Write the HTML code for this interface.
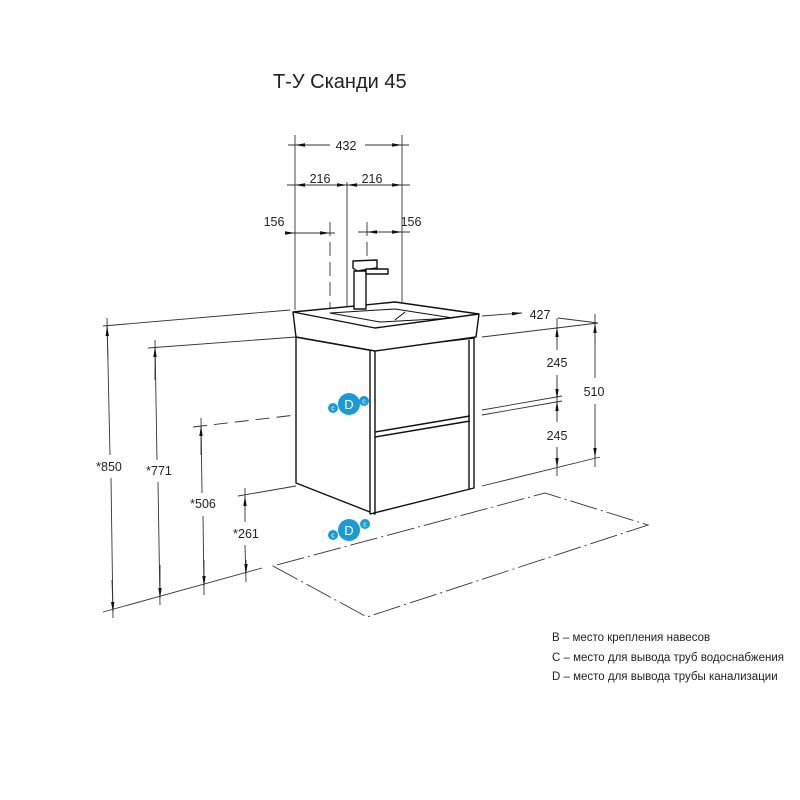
<!DOCTYPE html>
<html><head><meta charset="utf-8"><style>
html,body{margin:0;padding:0;background:#fff}
svg{display:block}
text{font-family:"Liberation Sans",sans-serif;fill:#222}
</style></head><body>
<svg width="800" height="800" viewBox="0 0 800 800" xmlns="http://www.w3.org/2000/svg">
<defs>
<marker id="a" markerWidth="10" markerHeight="6" refX="10" refY="3" orient="auto-start-reverse" markerUnits="userSpaceOnUse"><path d="M0,1.3 L10,3 L0,4.7z" fill="#111"/></marker>
</defs>
<text x="273" y="88" font-size="20">Т-У Сканди 45</text>
<g stroke="#333" stroke-width="0.9" fill="none">
<!-- top dims -->
<line x1="295" y1="135" x2="295" y2="310"/>
<line x1="402" y1="135" x2="402" y2="302"/>
<line x1="288" y1="145" x2="330" y2="145"/><line x1="365" y1="145" x2="409" y2="145"/>
<line x1="330" y1="145" x2="295" y2="145" marker-end="url(#a)"/>
<line x1="365" y1="145" x2="402" y2="145" marker-end="url(#a)"/>
<line x1="287" y1="185" x2="410" y2="185"/>
<line x1="320" y1="185" x2="295" y2="185" marker-end="url(#a)"/>
<line x1="320" y1="185" x2="347" y2="185" marker-end="url(#a)"/>
<line x1="375" y1="185" x2="347" y2="185" marker-end="url(#a)"/>
<line x1="375" y1="185" x2="402" y2="185" marker-end="url(#a)"/>
<line x1="347" y1="182" x2="347" y2="395"/>
<line x1="287" y1="233" x2="335" y2="233"/>
<line x1="312" y1="233" x2="330" y2="233" marker-end="url(#a)"/>
<line x1="287" y1="233" x2="295" y2="233" marker-end="url(#a)"/>
<line x1="358" y1="232" x2="410" y2="232"/>
<line x1="380" y1="232" x2="367" y2="232" marker-end="url(#a)"/>
<line x1="380" y1="232" x2="402" y2="232" marker-end="url(#a)"/>
<line x1="330" y1="222" x2="330" y2="400" stroke-dasharray="14,6"/>
<line x1="367" y1="222" x2="367" y2="258" stroke-dasharray="14,6"/>
<!-- left dims -->
<line x1="103" y1="326" x2="290" y2="310"/>
<line x1="148" y1="348" x2="296" y2="337"/>
<line x1="193" y1="427" x2="330" y2="411" stroke-dasharray="14,7"/>
<line x1="238" y1="496" x2="296" y2="486"/>
<line x1="103" y1="612" x2="262" y2="568"/>
<line x1="107" y1="318" x2="110" y2="455"/><line x1="111" y1="478" x2="113" y2="618"/>
<line x1="108" y1="360" x2="107" y2="326" marker-end="url(#a)"/>
<line x1="112" y1="580" x2="113" y2="612" marker-end="url(#a)"/>
<line x1="155" y1="340" x2="157" y2="460"/><line x1="158" y1="482" x2="160" y2="605"/>
<line x1="155" y1="380" x2="155" y2="347" marker-end="url(#a)"/>
<line x1="160" y1="565" x2="160" y2="598" marker-end="url(#a)"/>
<line x1="201" y1="418" x2="202" y2="493"/><line x1="203" y1="516" x2="204" y2="595"/>
<line x1="201" y1="455" x2="201" y2="426" marker-end="url(#a)"/>
<line x1="204" y1="560" x2="204" y2="586" marker-end="url(#a)"/>
<line x1="245" y1="488" x2="245" y2="522"/><line x1="245" y1="545" x2="246" y2="582"/>
<line x1="245" y1="510" x2="245" y2="496" marker-end="url(#a)"/>
<line x1="246" y1="560" x2="246" y2="574" marker-end="url(#a)"/>
<!-- right dims -->
<line x1="482" y1="316" x2="522" y2="313" marker-end="url(#a)"/>
<line x1="482" y1="337" x2="598" y2="323"/>
<line x1="558" y1="318" x2="598" y2="323"/>
<line x1="482" y1="410" x2="562" y2="396"/>
<line x1="482" y1="415" x2="562" y2="401"/>
<line x1="482" y1="486" x2="600" y2="457"/>
<line x1="557" y1="318" x2="557" y2="350"/><line x1="557" y1="375" x2="557" y2="422"/><line x1="557" y1="447" x2="557" y2="476"/>
<line x1="557" y1="345" x2="557" y2="327" marker-end="url(#a)"/>
<line x1="557" y1="380" x2="557" y2="399" marker-end="url(#a)"/>
<line x1="557" y1="420" x2="557" y2="401" marker-end="url(#a)"/>
<line x1="557" y1="450" x2="557" y2="468" marker-end="url(#a)"/>
<line x1="595" y1="314" x2="595" y2="378"/><line x1="595" y1="404" x2="595" y2="467"/>
<line x1="595" y1="345" x2="595" y2="323" marker-end="url(#a)"/>
<line x1="595" y1="440" x2="595" y2="458" marker-end="url(#a)"/>
<!-- floor -->
<polygon points="273,566 367,617 648,525 545,493" stroke-dasharray="28,4,2,4"/>
</g>
<!-- cabinet -->
<g stroke="#111" stroke-width="1.4" fill="#fff" stroke-linejoin="round">
<polygon points="296,337 375,351 375,514 296,483"/>
<polygon points="370,350 474,338 474,488 370,514"/>
<line x1="375" y1="351" x2="375" y2="514"/>
<line x1="469" y1="340" x2="469" y2="489"/>
<line x1="375" y1="432" x2="470" y2="416"/>
<line x1="375" y1="437" x2="470" y2="421"/>
<polygon points="293,312 395,302 479,314 476,337 375,351 296,337"/>
<polyline points="293,312 375,328 479,314" fill="none"/>
<polygon points="330,313 395,309 453,318 380,322" fill="none" stroke-width="1"/>
<line x1="405" y1="312" x2="395" y2="320" stroke-width="1"/>
<rect x="354" y="271" width="12" height="38" fill="#fff"/>
<polygon points="353,261 377,260 377,268 357,271 353,268"/>
<rect x="366" y="269" width="22" height="5"/>
</g>
<!-- markers -->
<g fill="#1a9ad6">
<circle cx="349" cy="404" r="11"/><circle cx="333" cy="408" r="5"/><circle cx="364" cy="401" r="5"/>
<circle cx="349" cy="530" r="11"/><circle cx="333" cy="535" r="5"/><circle cx="365" cy="524" r="5"/>
</g>
<g font-size="13" text-anchor="middle" style="fill:#fff">
<text x="349" y="409" style="fill:#fff">D</text><text x="349" y="535" style="fill:#fff">D</text>
</g>
<g font-size="7" text-anchor="middle">
<text x="333" y="410.5" style="fill:#fff">c</text><text x="364" y="403.5" style="fill:#fff">c</text>
<text x="333" y="537.5" style="fill:#fff">c</text><text x="365" y="526.5" style="fill:#fff">c</text>
</g>
<g font-size="12.5" text-anchor="middle">
<text x="346" y="150">432</text>
<text x="320" y="183">216</text><text x="372" y="183">216</text>
<text x="274" y="226">156</text><text x="411" y="226">156</text>
<text x="540" y="319">427</text>
<text x="557" y="367">245</text><text x="557" y="440">245</text>
<text x="594" y="396">510</text>
<text x="109" y="471">*850</text><text x="159" y="475">*771</text>
<text x="203" y="508">*506</text><text x="246" y="538">*261</text>
</g>
<g font-size="11.5">
<text x="552" y="641">В – место крепления навесов</text>
<text x="552" y="661">С – место для вывода труб водоснабжения</text>
<text x="552" y="680">D – место для вывода трубы канализации</text>
</g>
</svg>
</body></html>
